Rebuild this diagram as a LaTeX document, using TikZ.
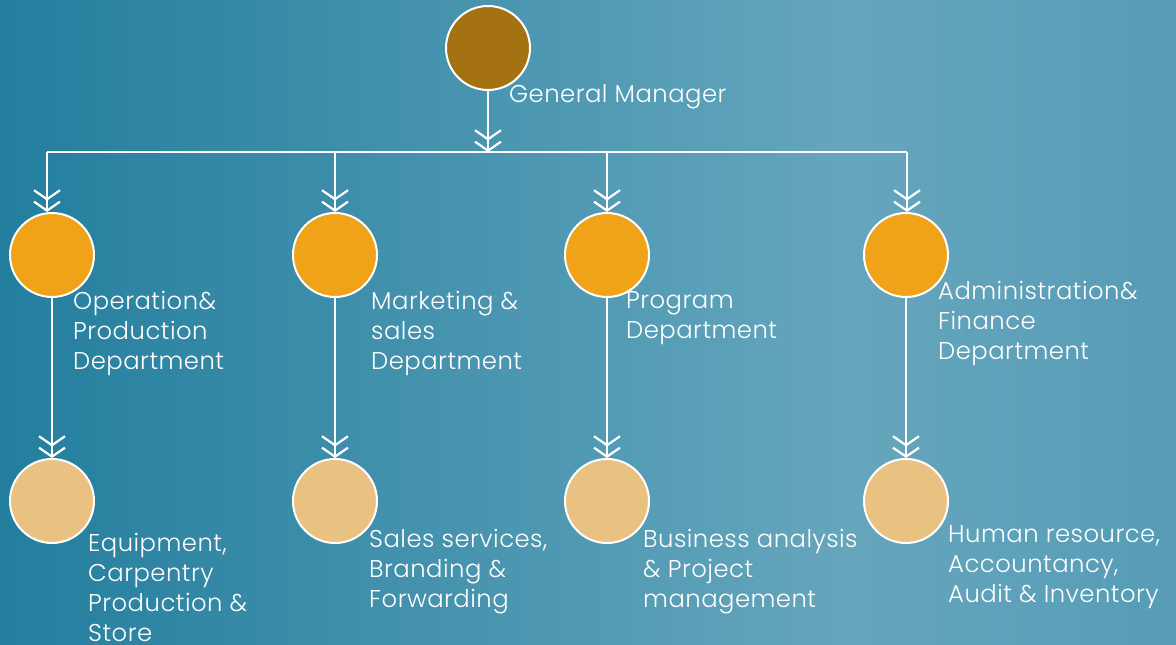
\documentclass[tikz,border=0pt]{standalone}
\usepackage{fontspec}
\setmainfont{Poppins}[UprightFont=* Light]
\usetikzlibrary{arrows.meta}
\definecolor{bgA}{RGB}{35,126,158}
\definecolor{bgB}{RGB}{102,166,189}
\definecolor{bgC}{RGB}{86,156,182}
\definecolor{gmcol}{RGB}{165,114,18}
\definecolor{deptcol}{RGB}{240,163,24}
\definecolor{subcol}{RGB}{233,194,129}
\tikzset{
  bubble/.style={circle, draw=white, line width=2pt, minimum size=84pt, inner sep=0pt},
  conn/.style={draw=white, line width=2.2pt, -{Straight Barb[length=9pt,width=26pt] Straight Barb[length=9pt,width=26pt]}},
  bar/.style={draw=white, line width=2.2pt},
  lbl/.style={text=white, font=\fontsize{24.3}{30}\selectfont\addfontfeature{LetterSpace=2}, align=left, inner sep=0pt, anchor=west}
}
\begin{document}
\begin{tikzpicture}[x=1pt,y=-1pt]
\useasboundingbox (0,0) rectangle (1176,645);
\shade[left color=bgA, right color=bgB] (0,0) rectangle (850,645);
\shade[left color=bgB, right color=bgC] (849.5,0) rectangle (1176,645);

\node[bubble, fill=gmcol] (gm) at (488,48) {};
\node[bubble, fill=deptcol] (d1) at (52,255) {};
\node[bubble, fill=deptcol] (d2) at (335,255) {};
\node[bubble, fill=deptcol] (d3) at (607,255) {};
\node[bubble, fill=deptcol] (d4) at (906,255) {};
\node[bubble, fill=subcol] (e1) at (52,501) {};
\node[bubble, fill=subcol] (e2) at (335,501) {};
\node[bubble, fill=subcol] (e3) at (607,501) {};
\node[bubble, fill=subcol] (e4) at (906,501) {};

\coordinate (b0) at (488,152);
\coordinate (b1) at (47,152);
\coordinate (b2) at (335,152);
\coordinate (b3) at (607,152);
\coordinate (b4) at (907,152);

\draw[bar] (b1) -- (b4);
\draw[conn] (gm) -- (b0);
\draw[conn] (b1) -- (b1 |- d1.north);
\draw[conn] (b2) -- (d2);
\draw[conn] (b3) -- (d3);
\draw[conn] (b4) -- (b4 |- d4.north);
\draw[conn] (d1) -- (e1);
\draw[conn] (d2) -- (e2);
\draw[conn] (d3) -- (e3);
\draw[conn] (d4) -- (e4);

\node[lbl] (t0) at (509,97) {General Manager};
\node[lbl] (t1) at (73,333) {Operation\&\\Production\\Department};
\node[lbl] (t2) at (371,333) {Marketing \&\\sales\\Department};
\node[lbl] (t3) at (626,318) {Program\\Department};
\node[lbl] (t4) at (938,323) {Administration\&\\Finance\\Department};
\node[lbl] (t5) at (88,587) {Equipment,\\Carpentry\\Production \&\\Store};
\node[lbl] (t6) at (369,572) {Sales services,\\Branding \&\\Forwarding};
\node[lbl] (t7) at (643,572) {Business analysis\\\& Project\\management};
\node[lbl] (t8) at (948,567) {Human resource,\\Accountancy,\\Audit \& Inventory};
\end{tikzpicture}
\end{document}
